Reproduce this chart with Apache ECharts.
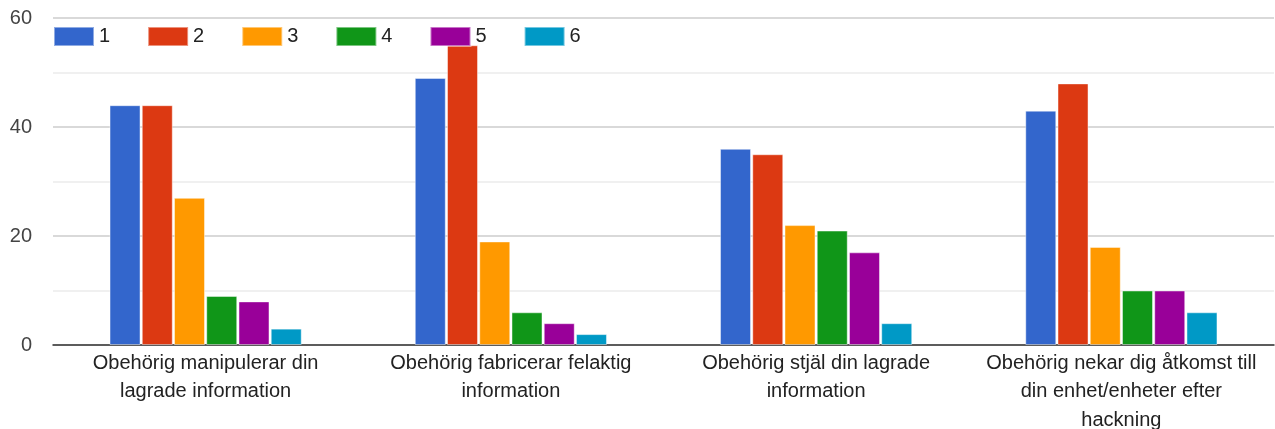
<!DOCTYPE html>
<html>
<head>
<meta charset="utf-8">
<script src="https://cdn.jsdelivr.net/npm/echarts@6/dist/echarts.min.js"></script>
<style>
  html, body { margin: 0; padding: 0; background: #fff; }
  #chart { width: 1275px; height: 429px; }
</style>
</head>
<body>
<div id="chart"></div>
<script>
// Survey categories (threat scenarios), wrapped onto lines for the axis
const categories = [
  'Obehörig manipulerar din\nlagrade information',
  'Obehörig fabricerar felaktig\ninformation',
  'Obehörig stjäl din lagrade\ninformation',
  'Obehörig nekar dig åtkomst till\ndin enhet/enheter efter\nhackning'
];

// Rating levels 1..6 and the number of answers per category
const seriesNames = ['1', '2', '3', '4', '5', '6'];
const rating1 = [44, 49, 36, 43];
const rating2 = [44, 55, 35, 48];
const rating3 = [27, 19, 22, 18];
const rating4 = [9, 6, 21, 10];
const rating5 = [8, 4, 17, 10];
const rating6 = [3, 2, 4, 6];

// Value axis ticks
const yTicks = [0, 20, 40, 60];

const palette = ['#3366cc', '#dc3912', '#ff9900', '#109618', '#990099', '#0099c6'];
const values = [rating1, rating2, rating3, rating4, rating5, rating6];
const font = 'Arial, "Liberation Sans", sans-serif';

const chart = echarts.init(document.getElementById('chart'), null, { renderer: 'canvas' });

chart.setOption({
  animation: false,
  backgroundColor: '#ffffff',
  color: palette,
  grid: {
    left: 53, right: 1, top: 18, bottom: 84,
    containLabel: false,
    outerBoundsMode: 'none'
  },
  legend: {
    data: seriesNames,
    left: 48,
    top: 21,
    itemWidth: 40,
    itemHeight: 19,
    itemGap: 37,
    icon: 'rect',
    textStyle: { fontFamily: font, fontSize: 20, color: '#222' }
  },
  xAxis: {
    type: 'category',
    data: categories,
    axisLine: { show: true, lineStyle: { color: '#333', width: 1.5 } },
    axisTick: { show: false },
    axisLabel: {
      fontFamily: font,
      fontSize: 20,
      color: '#222',
      lineHeight: 28.5,
      margin: 4,
      interval: 0
    }
  },
  yAxis: {
    type: 'value',
    min: yTicks[0],
    max: yTicks[yTicks.length - 1],
    interval: yTicks[1] - yTicks[0],
    axisLine: { show: false },
    axisTick: { show: false },
    axisLabel: {
      fontFamily: font,
      fontSize: 20,
      color: '#444',
      margin: 21,
      padding: [3, 0, 0, 0]
    },
    splitLine: { show: true, lineStyle: { color: '#cccccc', width: 1.5 } },
    minorTick: { show: false, splitNumber: 2 },
    minorSplitLine: { show: true, lineStyle: { color: '#ebebeb', width: 1.5 } }
  },
  series: seriesNames.map((name, i) => ({
    name: name,
    type: 'bar',
    data: values[i],
    barWidth: 31,
    barGap: '4%',
    itemStyle: {
      color: palette[i],
      borderColor: 'rgba(255,255,255,0.45)',
      borderWidth: 1
    }
  }))
});
</script>
</body>
</html>
